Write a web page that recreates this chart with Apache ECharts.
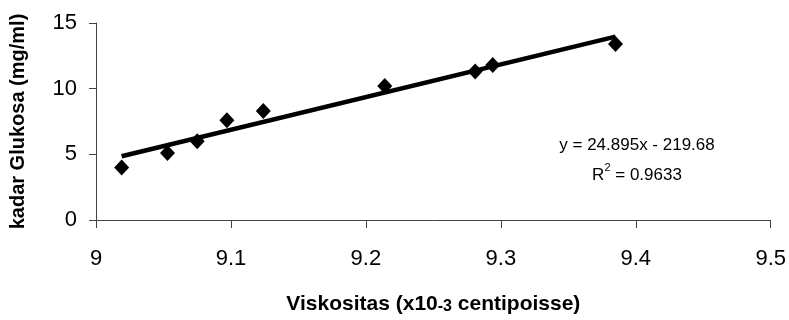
<!DOCTYPE html>
<html>
<head>
<meta charset="utf-8">
<script src="https://cdn.jsdelivr.net/npm/echarts@6/dist/echarts.min.js"></script>
<style>html,body{margin:0;padding:0;background:#fff}#c{width:789px;height:320px}</style>
</head>
<body>
<div id="c"></div>
<script>
var viskositas = [9.019, 9.053, 9.075, 9.097, 9.124, 9.214, 9.281, 9.294, 9.385];
var glukosa = [4.0, 5.1, 6.0, 7.6, 8.3, 10.2, 11.3, 11.8, 13.4];
var trendX = [9.019, 9.385];
var trendY = [4.85, 13.96];
var xTicks = [9, 9.1, 9.2, 9.3, 9.4, 9.5];
var yTicks = [0, 5, 10, 15];
var equation = 'y = 24.895x - 219.68';
var rSquared = '0.9633';

var FONT = '"Liberation Sans", Arial, sans-serif';
var chart = echarts.init(document.getElementById('c'), null, {renderer: 'canvas'});
chart.setOption({
  animation: false,
  backgroundColor: '#fff',
  grid: {left: 91, right: 16, top: 23, bottom: 99, containLabel: false},
  xAxis: {
    type: 'value', min: 9, max: 9.5, interval: 0.1,
    axisLine: {show: true, onZero: false, lineStyle: {color: '#444', width: 1}},
    axisTick: {show: true, length: 8, lineStyle: {color: '#444'}},
    splitLine: {show: false},
    axisLabel: {fontFamily: FONT, fontSize: 22, color: '#000', margin: 28,
      formatter: function (v) { return String(Math.round(v * 10) / 10); }},
    name: '{a|Viskositas (x10}{b|-3}{a| centipoisse)}',
    nameLocation: 'middle', nameGap: 74,
    nameTextStyle: {rich: {
      a: {fontFamily: FONT, fontSize: 21, fontWeight: 'bold', color: '#000'},
      b: {fontFamily: FONT, fontSize: 16, fontWeight: 'bold', color: '#000', verticalAlign: 'bottom'}
    }}
  },
  yAxis: {
    type: 'value', min: 0, max: 15, interval: 5,
    axisLine: {show: true, lineStyle: {color: '#444', width: 1}},
    axisTick: {show: true, length: 7, lineStyle: {color: '#444'}},
    splitLine: {show: false},
    axisLabel: {fontFamily: FONT, fontSize: 22, color: '#000', margin: 19},
    name: 'kadar Glukosa (mg/ml)', nameLocation: 'middle', nameGap: 68,
    nameTextStyle: {fontFamily: FONT, fontSize: 20, fontWeight: 'bold', color: '#000'}
  },
  graphic: [{
    type: 'text', x: 637, y: 145,
    style: {
      text: equation, fontFamily: FONT, fontSize: 17, fill: '#000',
      align: 'center', verticalAlign: 'middle'
    }
  }, {
    type: 'text', x: 637, y: 173,
    style: {
      text: '{t|R}{s|2}{t| = ' + rSquared + '}',
      align: 'center', verticalAlign: 'middle',
      rich: {
        t: {fontFamily: FONT, fontSize: 17, fill: '#000', color: '#000', lineHeight: 21, verticalAlign: 'bottom'},
        s: {fontFamily: FONT, fontSize: 11, fill: '#000', color: '#000', lineHeight: 11, verticalAlign: 'top'}
      }
    }
  }],
  series: [{
    type: 'line',
    data: trendX.map(function (x, i) { return [x, trendY[i]]; }),
    symbol: 'none',
    lineStyle: {color: '#000', width: 4.5},
    z: 2
  }, {
    type: 'scatter',
    data: viskositas.map(function (x, i) { return [x, glukosa[i]]; }),
    symbol: 'diamond', symbolSize: [15, 16],
    itemStyle: {color: '#000', opacity: 1},
    z: 3
  }]
});
</script>
</body>
</html>
